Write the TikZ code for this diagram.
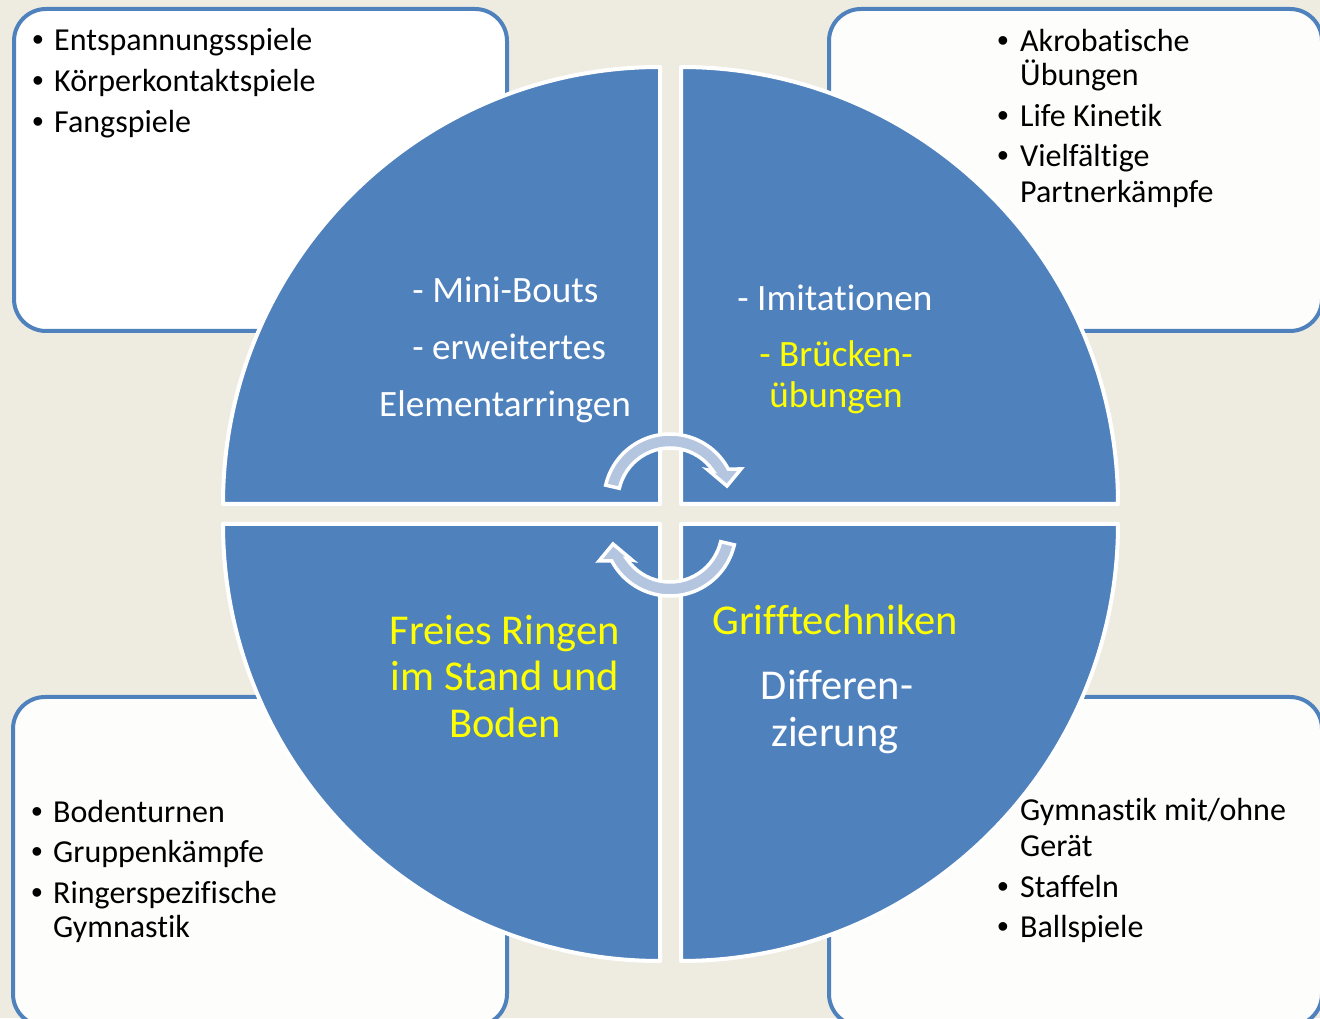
\documentclass[tikz,border=0pt]{standalone}
\usepackage{fontspec}
\setmainfont{Carlito}[Ligatures={NoCommon}]
\newfontfamily\bulletfont{Liberation Sans}
\definecolor{bg}{HTML}{EEECE1}
\definecolor{acc}{HTML}{4F81BD}
\definecolor{arr}{HTML}{B4C5E0}
\definecolor{yel}{HTML}{FFFF00}
\definecolor{offw}{HTML}{FDFDFB}
\begin{document}
\begin{tikzpicture}[x=1pt,y=1pt,
  box/.style={draw=acc, line width=4pt, fill=white, rounded corners=32pt},
  quad/.style={fill=acc, draw=white, line width=4pt, line join=round},
  cyc/.style={fill=arr, draw=white, line width=3.5pt, line join=miter},
  btxt/.style={anchor=base west, inner sep=0pt, font=\fontsize{32}{38}\selectfont, text=black},
  bul/.style={anchor=base, inner sep=0pt, font=\bulletfont\fontsize{32}{38}\selectfont, text=black},
  qtop/.style={anchor=base, inner sep=0pt, font=\fontsize{37.2}{44}\selectfont, text=white},
  qbot/.style={anchor=base, inner sep=0pt, font=\fontsize{42.5}{50}\selectfont, text=white},
]
\useasboundingbox (0,0) rectangle (1320,1018);
\fill[bg] (0,0) rectangle (1320,1018);

% corner boxes
\path[box] (14,687) rectangle (507,1009);
\path[box, fill=offw] (829,687) rectangle (1322,1009);
\path[box, fill=offw] (13,-8) rectangle (507,321);
\path[box, fill=offw] (829,-8) rectangle (1322,321);

% quadrants
\path[quad] (660,514) -- (223,514) arc[start angle=180, end angle=90, radius=437pt] -- cycle;
\path[quad] (681,514) -- (681,951) arc[start angle=90, end angle=0, radius=437pt] -- cycle;
\path[quad] (660,494) -- (660,57) arc[start angle=270, end angle=180, radius=437pt] -- cycle;
\path[quad] (681,494) -- (1118,494) arc[start angle=0, end angle=-90, radius=437pt] -- cycle;

% cycle arrows
\begin{scope}[shift={(670,518)}]
  \path[cyc] (167:66pt) arc[start angle=167, end angle=28, radius=66pt]
    -- (71,31) -- (57,14) -- (38,30) -- (33.9:52pt)
    arc[start angle=33.9, end angle=167, radius=52pt] -- cycle;
\end{scope}
\begin{scope}[shift={(670,488)}, rotate=180]
  \path[cyc] (167:66pt) arc[start angle=167, end angle=28, radius=66pt]
    -- (71,31) -- (57,14) -- (38,30) -- (33.9:52pt)
    arc[start angle=33.9, end angle=167, radius=52pt] -- cycle;
\end{scope}

% top-left box text
\node[bul] (b11) at (38,967) {•};
\node[btxt] (t11) at (54,967) {Entspannungsspiele};
\node[bul] (b12) at (38,926) {•};
\node[btxt] (t12) at (54,926) {Körperkontaktspiele};
\node[bul] (b13) at (38,885) {•};
\node[btxt] (t13) at (54,885) {Fangspiele};

% top-right box text
\node[bul] (b21) at (1003,966) {•};
\node[btxt] (t21) at (1020,966) {Akrobatische};
\node[btxt] (t21b) at (1020,932) {Übungen};
\node[bul] (b22) at (1003,891) {•};
\node[btxt] (t22) at (1020,891) {Life Kinetik};
\node[bul] (b23) at (1003,851) {•};
\node[btxt] (t23) at (1020,851) {Vielfältige};
\node[btxt] (t23b) at (1020,815) {Partnerkämpfe};

% bottom-left box text
\node[bul] (b31) at (37,196) {•};
\node[btxt] (t31) at (53,196) {Bodenturnen};
\node[bul] (b32) at (37,156) {•};
\node[btxt] (t32) at (53,156) {Gruppenkämpfe};
\node[bul] (b33) at (37,115) {•};
\node[btxt] (t33) at (53,115) {Ringerspezifische};
\node[btxt] (t33b) at (53,81) {Gymnastik};

% bottom-right box text
\node[btxt] (t41) at (1020,197) {Gymnastik mit/ohne};
\node[btxt] (t41b) at (1020,162) {Gerät};
\node[bul] (b42) at (1003,121) {•};
\node[btxt] (t42) at (1020,121) {Staffeln};
\node[bul] (b43) at (1003,81) {•};
\node[btxt] (t43) at (1020,81) {Ballspiele};

% quadrant texts
\node[qtop] (q11) at (505.5,715) {- Mini-Bouts};
\node[qtop] (q12) at (509,658) {- erweitertes};
\node[qtop] (q13) at (505,601) {Elementarringen};

\node[qtop] (q21) at (835,707) {- Imitationen};
\node[qtop, text=yel] (q22) at (836,651) {- Brücken-};
\node[qtop, text=yel] (q23) at (836,610) {übungen};

\node[qbot, text=yel] (q31) at (505,373) {Freies Ringen};
\node[qbot, text=yel] (q32) at (505,327) {im Stand und};
\node[qbot, text=yel] (q33) at (505,280) {Boden};

\node[qbot, text=yel] (q41) at (835,383) {Grifftechniken};
\node[qbot] (q42) at (837,318) {Differen-};
\node[qbot] (q43) at (835,271) {zierung};
\end{tikzpicture}
\end{document}
